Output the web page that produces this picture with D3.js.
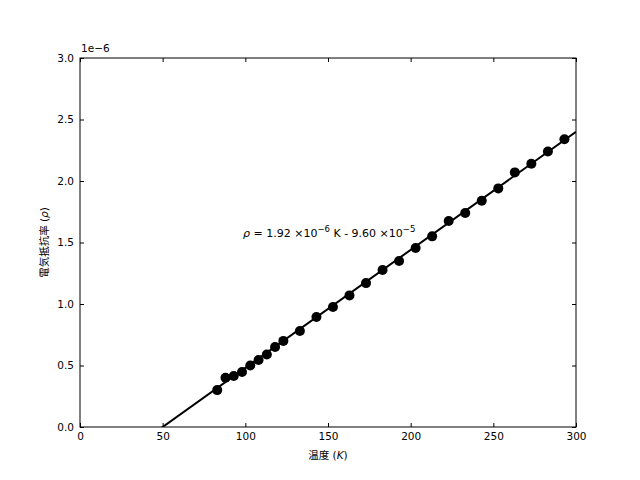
<!DOCTYPE html>
<html><head><meta charset="utf-8">
<script src="https://cdn.jsdelivr.net/npm/d3@7/dist/d3.min.js"></script>
<style>body{margin:0;background:#fff}svg{display:block}text{font-family:"DejaVu Sans","Noto Sans CJK JP",sans-serif}</style>
</head><body>
<svg id="c" width="640" height="480"></svg>
<script>
const temperature = [83, 88, 93, 98, 103, 108, 113, 118, 123, 133, 143, 153, 163, 173, 183, 193, 203, 213, 223, 233, 243, 253, 263, 273, 283, 293];
const resistivity = [0.30, 0.40, 0.415, 0.447, 0.50, 0.545, 0.59, 0.65, 0.70, 0.78, 0.894, 0.976, 1.07, 1.17, 1.276, 1.35, 1.455, 1.55, 1.675, 1.74, 1.84, 1.94, 2.07, 2.14, 2.24, 2.34];
const fitLineK = [0, 300];
const fitLineRho = [-0.48, 2.40];
const xTicks = [0, 50, 100, 150, 200, 250, 300];
const yTicks = [0.0, 0.5, 1.0, 1.5, 2.0, 2.5, 3.0];

const FONT = '"DejaVu Sans","Noto Sans CJK JP",sans-serif';
const svg = d3.select("#c");
const L = 80, R = 576, T = 58, B = 427;
const x = d3.scaleLinear().domain([0, 300]).range([L, R]);
const y = d3.scaleLinear().domain([0, 3.0]).range([B, T]);

svg.append("defs").append("clipPath").attr("id", "clip")
  .append("rect").attr("x", L).attr("y", T).attr("width", R - L).attr("height", B - T);

const g = svg.append("g").attr("clip-path", "url(#clip)");
g.append("path")
  .datum(fitLineK.map((k, i) => [k, fitLineRho[i]]))
  .attr("d", d3.line().x(d => x(d[0])).y(d => y(d[1])))
  .attr("fill", "none").attr("stroke", "#000").attr("stroke-width", 2);
g.selectAll("circle").data(temperature).join("circle")
  .attr("cx", d => x(d)).attr("cy", (d, i) => y(resistivity[i]))
  .attr("r", 5).attr("fill", "#000");

function style(sel) {
  sel.select(".domain").remove();
  sel.selectAll(".tick line").attr("stroke", "#000").attr("stroke-width", 1);
  sel.selectAll(".tick text").attr("font-size", 10.5).attr("fill", "#000").attr("font-family", FONT);
}
const fmtY = d3.format(".1f");
svg.append("g").attr("transform", `translate(0,${B})`)
  .call(d3.axisBottom(x).tickValues(xTicks).tickSizeInner(-4).tickSizeOuter(0).tickPadding(6))
  .call(style);
svg.append("g").attr("transform", `translate(0,${T})`)
  .call(d3.axisTop(x).tickValues(xTicks).tickSizeInner(-4).tickSizeOuter(0).tickFormat(""))
  .call(style);
svg.append("g").attr("transform", `translate(${L},0)`)
  .call(d3.axisLeft(y).tickValues(yTicks).tickSizeInner(-4).tickSizeOuter(0).tickPadding(6).tickFormat(fmtY))
  .call(style);
svg.append("g").attr("transform", `translate(${R},0)`)
  .call(d3.axisRight(y).tickValues(yTicks).tickSizeInner(-4).tickSizeOuter(0).tickFormat(""))
  .call(style);

svg.append("rect").attr("x", L).attr("y", T).attr("width", R - L).attr("height", B - T)
  .attr("fill", "none").attr("stroke", "#000").attr("stroke-width", 1);

svg.append("text").attr("x", L + 1).attr("y", T - 6).attr("font-size", 10.5).text("1e\u22126");

const xl = svg.append("text").attr("x", (L + R) / 2).attr("y", 459).attr("text-anchor", "middle").attr("font-size", 10.5);
xl.append("tspan").text("温度 (");
xl.append("tspan").attr("font-style", "italic").text("K");
xl.append("tspan").text(")");

const yl = svg.append("text").attr("transform", `translate(48,${(T + B) / 2}) rotate(-90)`).attr("text-anchor", "middle").attr("font-size", 10.5);
yl.append("tspan").text("電気抵抗率 (");
yl.append("tspan").attr("font-style", "italic").text("ρ");
yl.append("tspan").text(")");

const eq = svg.append("text").attr("x", 243).attr("y", 237).attr("font-size", 11);
eq.append("tspan").attr("font-style", "italic").text("ρ");
eq.append("tspan").text(" = 1.92 ×10");
eq.append("tspan").attr("dy", -5).attr("font-size", 8.5).text("−6");
eq.append("tspan").attr("dy", 5).text(" K - 9.60 ×10");
eq.append("tspan").attr("dy", -5).attr("font-size", 8.5).text("−5");
</script>
</body></html>
